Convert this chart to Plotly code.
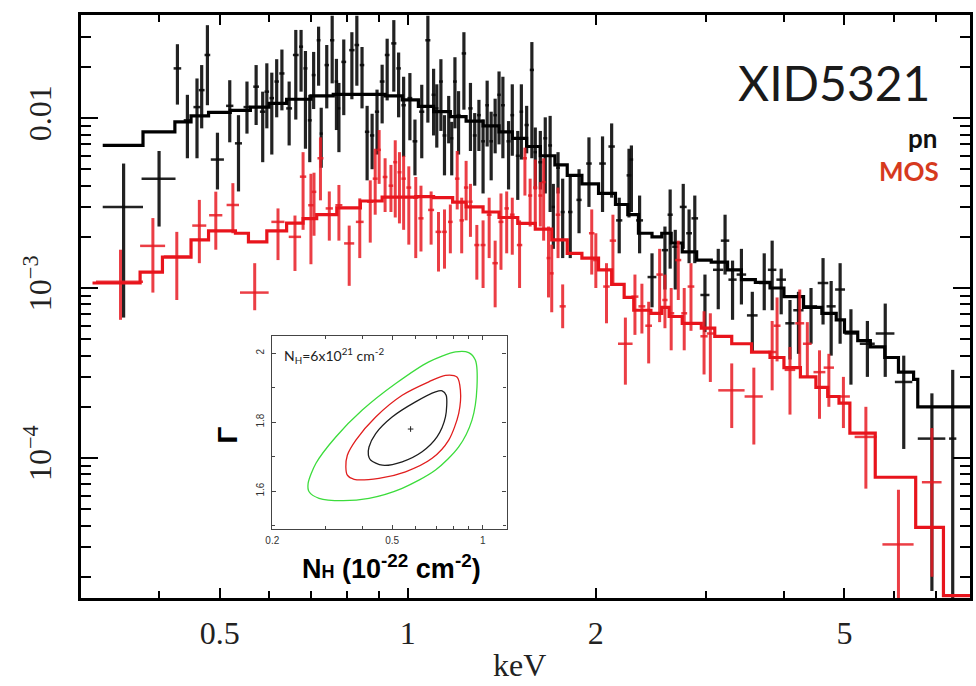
import numpy as np
import plotly.graph_objects as go

# ---------------- data: pn (black) ----------------
pn_E = [0.351, 0.400, 0.428, 0.444, 0.460, 0.468, 0.478, 0.496, 0.519, 0.536, 0.553, 0.572, 0.586, 0.595,
        0.606, 0.617, 0.629, 0.646, 0.662, 0.675, 0.686, 0.697, 0.707, 0.720, 0.727, 0.742, 0.757, 0.769,
        0.776, 0.790, 0.814, 0.829, 0.845, 0.861, 0.877, 0.893, 0.910, 0.927, 0.950, 0.967, 0.985, 1.008,
        1.027, 1.053, 1.077, 1.100, 1.113, 1.130, 1.145, 1.163, 1.176, 1.190, 1.206, 1.230, 1.260, 1.280,
        1.300, 1.320, 1.340, 1.360, 1.380, 1.400, 1.420, 1.450, 1.470, 1.500, 1.520, 1.550, 1.580, 1.600,
        1.630, 1.660, 1.690, 1.710, 1.740, 1.770, 1.820, 1.880, 1.950, 2.050, 2.120, 2.180, 2.260, 2.280,
        2.350, 2.460, 2.580, 2.630, 2.680, 2.760, 2.820, 2.880, 2.990, 3.140, 3.220, 3.310, 3.420, 3.560,
        3.720, 3.830, 3.960, 4.090, 4.220, 4.420, 4.620, 4.760, 4.920, 5.120, 5.440, 5.810, 6.220, 6.900,
        7.450]
pn_dE = [0.026, 0.025, 0.006, 0.006, 0.006, 0.005, 0.005, 0.012, 0.007, 0.007, 0.007, 0.006, 0.006, 0.005,
         0.005, 0.005, 0.006, 0.007, 0.007, 0.005, 0.005, 0.005, 0.005, 0.005, 0.004, 0.006, 0.006, 0.005,
         0.004, 0.007, 0.008, 0.007, 0.007, 0.007, 0.007, 0.007, 0.008, 0.008, 0.009, 0.008, 0.008, 0.009,
         0.009, 0.010, 0.010, 0.008, 0.007, 0.008, 0.008, 0.008, 0.007, 0.008, 0.009, 0.010, 0.010, 0.009,
         0.009, 0.009, 0.009, 0.009, 0.009, 0.009, 0.010, 0.011, 0.010, 0.011, 0.010, 0.012, 0.012, 0.010,
         0.012, 0.012, 0.012, 0.010, 0.012, 0.013, 0.015, 0.018, 0.020, 0.025, 0.025, 0.025, 0.020, 0.015,
         0.030, 0.040, 0.030, 0.025, 0.030, 0.035, 0.030, 0.035, 0.050, 0.060, 0.050, 0.050, 0.060, 0.070,
         0.070, 0.060, 0.070, 0.070, 0.080, 0.100, 0.090, 0.080, 0.090, 0.120, 0.150, 0.200, 0.200, 0.350,
         0.100]
pn_F = [0.0030, 0.0044, 0.0196, 0.0097, 0.0116, 0.0146, 0.0235, 0.0057, 0.0118, 0.0071, 0.0116, 0.0153, 0.0109, 0.0143,
        0.0131, 0.0164, 0.0183, 0.0114, 0.0235, 0.0263, 0.0196, 0.0097, 0.0179, 0.0287, 0.0081, 0.0205, 0.0287, 0.0164,
        0.0114, 0.0214, 0.0251, 0.0269, 0.0205, 0.0083, 0.0079, 0.0109, 0.0164, 0.0235, 0.0275, 0.0196, 0.0119, 0.0131,
        0.0073, 0.0109, 0.0287, 0.0137, 0.0114, 0.0164, 0.0079, 0.0109, 0.0076, 0.0164, 0.0104, 0.0240, 0.0114, 0.0079,
        0.0104, 0.0073, 0.0119, 0.0073, 0.0104, 0.0137, 0.0119, 0.0073, 0.0104, 0.0060, 0.0109, 0.0091, 0.0192, 0.0063,
        0.0055, 0.0076, 0.0069, 0.0030, 0.0051, 0.0028, 0.0028, 0.0033, 0.0054, 0.0054, 0.0068, 0.0025, 0.0046, 0.0057,
        0.0025, 0.00116, 0.00167, 0.0027, 0.00175, 0.0030, 0.0021, 0.00257, 0.00091, 0.00128, 0.0019, 0.00112, 0.0012, 0.00069,
        0.00107, 0.00128, 0.00112, 0.00062, 0.00074, 0.00078, 0.00107, 0.00078, 0.00098, 0.00054, 0.00047, 0.00054, 0.00028, 0.00013,
        0.00013]
pn_Fhi = [0.0054, 0.0064, 0.0272, 0.0137, 0.0171, 0.0205, 0.0352, 0.0082, 0.0167, 0.0104, 0.0164, 0.0205, 0.0143, 0.0210,
          0.0185, 0.0222, 0.0253, 0.0164, 0.0330, 0.0330, 0.0248, 0.0137, 0.0245, 0.0345, 0.0115, 0.0269, 0.0400, 0.0223,
          0.0161, 0.0290, 0.0320, 0.0400, 0.0262, 0.0118, 0.0106, 0.0147, 0.0206, 0.0293, 0.0377, 0.0243, 0.0175, 0.0184,
          0.0098, 0.0157, 0.0400, 0.0195, 0.0158, 0.0222, 0.0104, 0.0135, 0.0095, 0.0228, 0.0144, 0.0320, 0.0161, 0.0107,
          0.0128, 0.0098, 0.0166, 0.0109, 0.0130, 0.0188, 0.0175, 0.0096, 0.0158, 0.0084, 0.0158, 0.0118, 0.0280, 0.0088,
          0.0084, 0.0101, 0.0103, 0.0041, 0.0063, 0.0044, 0.0045, 0.0050, 0.0077, 0.0078, 0.0093, 0.0034, 0.0066, 0.0069,
          0.0035, 0.0016, 0.0023, 0.0038, 0.0022, 0.0041, 0.0029, 0.0035, 0.0012, 0.0017, 0.0027, 0.00145, 0.0017, 0.00095,
          0.0016, 0.0019, 0.0013, 0.00085, 0.00095, 0.0010, 0.0015, 0.0011, 0.0014, 0.00075, 0.00064, 0.00081, 0.0004, 0.00024,
          0.00033]
pn_Flo = [0.00067, 0.0023, 0.0120, 0.0058, 0.0058, 0.0087, 0.0119, 0.0038, 0.0072, 0.0037, 0.0081, 0.0091, 0.0055, 0.0087,
          0.0061, 0.0101, 0.0111, 0.0069, 0.0098, 0.0143, 0.0066, 0.0055, 0.0113, 0.0155, 0.0051, 0.0114, 0.0160, 0.0085,
          0.0063, 0.0104, 0.0129, 0.0155, 0.0114, 0.0043, 0.0050, 0.0061, 0.0093, 0.0127, 0.0143, 0.0101, 0.0059, 0.0074,
          0.0046, 0.0058, 0.0094, 0.0079, 0.0067, 0.0084, 0.0046, 0.0071, 0.0046, 0.0087, 0.0061, 0.0112, 0.0064, 0.0040,
          0.0064, 0.0036, 0.0068, 0.0043, 0.0062, 0.0070, 0.0058, 0.0038, 0.0060, 0.0033, 0.0057, 0.0062, 0.0058, 0.0038,
          0.0038, 0.0036, 0.0028, 0.0017, 0.0036, 0.0015, 0.0015, 0.0021, 0.0030, 0.0028, 0.0034, 0.0016, 0.0026, 0.0028,
          0.0016, 0.00077, 0.00098, 0.0013, 0.00098, 0.0017, 0.0014, 0.0014, 0.00055, 0.00075, 0.0012, 0.00065, 0.0008, 0.00042,
          0.00074, 0.00074, 0.0007, 0.00038, 0.00041, 0.00047, 0.00061, 0.0004, 0.00047, 0.00027, 0.0003, 0.0003, 0.000113, 0.0000165,
          0.000015]

# ---------------- data: MOS (red) ----------------
mos_E = [0.347, 0.391, 0.427, 0.464, 0.493, 0.525, 0.569, 0.620, 0.660, 0.680, 0.700, 0.708, 0.725, 0.749,
         0.776, 0.806, 0.838, 0.871, 0.887, 0.900, 0.920, 0.940, 0.955, 0.970, 0.985, 1.004, 1.030, 1.050,
         1.090, 1.120, 1.145, 1.170, 1.200, 1.220, 1.240, 1.260, 1.290, 1.320, 1.350, 1.380, 1.410, 1.440,
         1.470, 1.510, 1.540, 1.570, 1.600, 1.630, 1.650, 1.680, 1.700, 1.740, 1.770, 1.970, 2.000, 2.080,
         2.130, 2.230, 2.310, 2.370, 2.430, 2.530, 2.580, 2.640, 2.710, 2.770, 2.840, 2.980, 3.050, 3.300,
         3.580, 3.830, 3.900, 4.090, 4.240, 4.360, 4.560, 4.720, 4.980, 5.410, 6.100, 6.900]
mos_dE = [0.030, 0.018, 0.020, 0.012, 0.012, 0.012, 0.030, 0.015, 0.015, 0.008, 0.007, 0.006, 0.008, 0.010,
          0.010, 0.015, 0.012, 0.010, 0.008, 0.006, 0.008, 0.008, 0.007, 0.007, 0.008, 0.009, 0.010, 0.010,
          0.012, 0.012, 0.010, 0.010, 0.010, 0.010, 0.010, 0.010, 0.012, 0.012, 0.012, 0.014, 0.013, 0.012,
          0.013, 0.015, 0.012, 0.012, 0.012, 0.012, 0.012, 0.012, 0.012, 0.015, 0.020, 0.020, 0.020, 0.025,
          0.025, 0.060, 0.030, 0.030, 0.030, 0.030, 0.025, 0.030, 0.030, 0.030, 0.035, 0.040, 0.040, 0.160,
          0.120, 0.060, 0.050, 0.080, 0.070, 0.070, 0.100, 0.090, 0.120, 0.220, 0.350, 0.250]
mos_F = [0.00109, 0.00177, 0.00153, 0.00233, 0.00268, 0.00308, 0.00094, 0.00245, 0.0020, 0.00452, 0.00307, 0.00368, 0.0058, 0.00294,
         0.00307, 0.00183, 0.00245, 0.00322, 0.0044, 0.0065, 0.0045, 0.0040, 0.0055, 0.0048, 0.0044, 0.0039, 0.0034, 0.00257,
         0.00288, 0.00214, 0.00214, 0.00245, 0.0044, 0.0025, 0.0039, 0.00322, 0.00179, 0.00179, 0.0027, 0.0014, 0.00245, 0.00294,
         0.0027, 0.00179, 0.0058, 0.0035, 0.0039, 0.0035, 0.0042, 0.0015, 0.00122, 0.0027, 0.00078, 0.0021, 0.00146, 0.00102,
         0.0019, 0.00047, 0.00089, 0.00078, 0.0006, 0.0012, 0.00085, 0.00071, 0.00146, 0.00071, 0.00102, 0.00052, 0.00054, 0.00025,
         0.00023, 0.00042, 0.0006, 0.00033, 0.00062, 0.00047, 0.00032, 0.00034, 0.00023, 0.000133, 0.000031, 0.000072]
mos_Fhi = [0.00168, 0.00258, 0.00214, 0.0033, 0.00369, 0.00414, 0.0014, 0.00294, 0.00267, 0.0063, 0.0047, 0.00477, 0.0077, 0.0037,
           0.00404, 0.00233, 0.00337, 0.0043, 0.0066, 0.0085, 0.0058, 0.0053, 0.0074, 0.0063, 0.0060, 0.0052, 0.0045, 0.0040,
           0.0037, 0.0028, 0.0029, 0.0031, 0.0064, 0.0034, 0.0056, 0.0041, 0.00235, 0.0025, 0.0034, 0.0019, 0.0036, 0.0037,
           0.0034, 0.0025, 0.0067, 0.0044, 0.0057, 0.0042, 0.0058, 0.0023, 0.0018, 0.0039, 0.00105, 0.0029, 0.0021, 0.0014,
           0.0027, 0.00067, 0.0012, 0.00106, 0.00083, 0.0017, 0.0012, 0.0010, 0.0019, 0.0010, 0.0014, 0.00073, 0.00071, 0.00036,
           0.00034, 0.00064, 0.00088, 0.00045, 0.00098, 0.00063, 0.00043, 0.00041, 0.0003, 0.0002, 0.000065, 0.00015]
mos_Flo = [0.00065, 0.00094, 0.00085, 0.0014, 0.00168, 0.0021, 0.00074, 0.00146, 0.00126, 0.0022, 0.00138, 0.00203, 0.00328, 0.0019,
           0.0019, 0.00103, 0.0015, 0.00185, 0.0027, 0.0041, 0.0028, 0.0028, 0.0026, 0.0024, 0.0022, 0.0018, 0.0015, 0.00164,
           0.0018, 0.00125, 0.0013, 0.0016, 0.0029, 0.0016, 0.0025, 0.0020, 0.00112, 0.0010, 0.0015, 0.00077, 0.00128, 0.0016,
           0.00157, 0.0010, 0.0035, 0.0023, 0.0023, 0.0023, 0.0019, 0.00088, 0.00072, 0.0015, 0.00058, 0.0012, 0.0010, 0.00062,
           0.00105, 0.00027, 0.00053, 0.00054, 0.00036, 0.00063, 0.00058, 0.00043, 0.00085, 0.00043, 0.00056, 0.00031, 0.00028, 0.00015,
           0.00012, 0.00025, 0.00037, 0.00018, 0.00034, 0.0003, 0.00017, 0.0002, 0.00015, 0.000066, 0.000001, 0.00002]

# ---------------- folded models (step functions: bin edges, values) ----------------
pn_model_E = [0.325, 0.377, 0.424, 0.45, 0.48, 0.52, 0.56, 0.60, 0.64, 0.70, 0.76, 0.84, 0.92, 0.98, 1.04, 1.10,
              1.17, 1.24, 1.32, 1.40, 1.47, 1.55, 1.63, 1.72, 1.80, 1.90, 2.02, 2.15, 2.25, 2.34, 2.46, 2.55,
              2.64, 2.75, 2.90, 3.06, 3.25, 3.42, 3.60, 3.80, 4.00, 4.30, 4.60, 4.85, 5.00, 5.25, 5.50, 5.80,
              6.10, 6.45, 6.55, 7.94]
pn_model_F = [0.0069, 0.0083, 0.0095, 0.0103, 0.0108, 0.0111, 0.0116, 0.0122, 0.0129, 0.0135, 0.0138, 0.0138, 0.0135,
              0.0128, 0.0117, 0.0109, 0.0102, 0.0096, 0.0090, 0.0083, 0.0076, 0.0068, 0.0060, 0.0053, 0.0046, 0.0041,
              0.0036, 0.0031, 0.0027, 0.0021, 0.0020, 0.0021, 0.00184, 0.00163, 0.00146, 0.00142, 0.00128, 0.00112,
              0.00108, 0.0010, 0.00089, 0.00077, 0.00071, 0.00065, 0.00055, 0.00049, 0.00045, 0.00039, 0.00032,
              0.00029, 0.0002, 0.0002]
mos_model_E = [0.313, 0.373, 0.405, 0.45, 0.48, 0.53, 0.556, 0.595, 0.64, 0.68, 0.715, 0.77, 0.84, 0.91, 1.03, 1.10,
               1.18, 1.24, 1.32, 1.40, 1.50, 1.60, 1.70, 1.80, 1.90, 2.02, 2.12, 2.22, 2.30, 2.45, 2.55, 2.62, 2.75,
               2.95, 3.10, 3.30, 3.55, 3.80, 4.00, 4.25, 4.50, 4.70, 4.90, 5.10, 5.60, 6.50, 7.20, 7.94]
mos_model_F = [0.00107, 0.00124, 0.00152, 0.00192, 0.00217, 0.0021, 0.00187, 0.00217, 0.00241, 0.00256, 0.0027, 0.00296,
               0.00325, 0.00343, 0.00345, 0.0034, 0.0032, 0.0030, 0.0028, 0.0026, 0.0024, 0.00222, 0.00192, 0.0016,
               0.0015, 0.00128, 0.00105, 0.00088, 0.00074, 0.00071, 0.00077, 0.00068, 0.00062, 0.00058, 0.00052,
               0.00047, 0.00042, 0.00039, 0.00034, 0.0003, 0.00026, 0.00023, 0.00021, 0.00014, 0.000077, 0.000039,
               0.0000155, 0.0000155]

# ---------------- inset: confidence contours (NH in 1e22, Gamma) ----------------
c1_N = [0.417, 0.424, 0.464, 0.540, 0.629, 0.705, 0.752, 0.756, 0.733, 0.697, 0.598, 0.500, 0.441, 0.419, 0.417]
c1_G = [1.704, 1.690, 1.675, 1.685, 1.714, 1.757, 1.815, 1.878, 1.891, 1.888, 1.859, 1.815, 1.767, 1.728, 1.704]
c2_N = [0.351, 0.355, 0.374, 0.452, 0.554, 0.679, 0.771, 0.832, 0.843, 0.821, 0.752, 0.662, 0.540, 0.441, 0.379, 0.355, 0.351]
c2_G = [1.670, 1.646, 1.634, 1.637, 1.656, 1.695, 1.748, 1.825, 1.893, 1.931, 1.936, 1.917, 1.878, 1.815, 1.748, 1.704, 1.670]
c3_N = [0.263, 0.265, 0.286, 0.342, 0.419, 0.540, 0.697, 0.832, 0.921, 0.957, 0.945, 0.898, 0.812, 0.662, 0.514, 0.398, 0.325, 0.279, 0.263]
c3_G = [1.622, 1.598, 1.579, 1.572, 1.579, 1.608, 1.661, 1.728, 1.806, 1.902, 1.980, 2.002, 2.004, 1.975, 1.912, 1.835, 1.757, 1.680, 1.622]
best_N = [0.576]
best_G = [1.780]

# tick labels
x_ticks = [0.5, 1, 2, 5]
x_ticktext = ["0.5", "1", "2", "5"]
y_ticks = [0.01, 0.001, 0.0001]
y_ticktext = ["0.01", "10<sup>−3</sup>", "10<sup>−4</sup>"]
ins_x_ticks = [0.2, 0.5, 1]
ins_x_ticktext = ["0.2", "0.5", "1"]
ins_y_ticks = [1.6, 1.8, 2.0]
ins_y_ticktext = ["1.6", "1.8", "2"]

BLACK = "rgba(10,10,10,0.9)"
RED = "rgba(232,28,36,0.85)"

def errs(F, hi, lo):
    F = np.array(F); hi = np.array(hi); lo = np.array(lo)
    return (hi - F).tolist(), (F - lo).tolist()

fig = go.Figure()

pn_up, pn_dn = errs(pn_F, pn_Fhi, pn_Flo)
mos_up, mos_dn = errs(mos_F, mos_Fhi, mos_Flo)

fig.add_trace(go.Scatter(
    x=pn_E, y=pn_F, mode="markers", marker=dict(size=1, color=BLACK),
    error_x=dict(type="data", array=pn_dE, thickness=2.5, width=0, color=BLACK),
    error_y=dict(type="data", symmetric=False, array=pn_up, arrayminus=pn_dn, thickness=3.2, width=0, color=BLACK),
    showlegend=False, hoverinfo="skip"))
fig.add_trace(go.Scatter(
    x=pn_model_E, y=pn_model_F, mode="lines", line=dict(shape="hv", color="black", width=3.2),
    showlegend=False, hoverinfo="skip"))
fig.add_trace(go.Scatter(
    x=mos_E, y=mos_F, mode="markers", marker=dict(size=1, color=RED),
    error_x=dict(type="data", array=mos_dE, thickness=2.5, width=0, color=RED),
    error_y=dict(type="data", symmetric=False, array=mos_up, arrayminus=mos_dn, thickness=3.0, width=0, color=RED),
    showlegend=False, hoverinfo="skip"))
fig.add_trace(go.Scatter(
    x=mos_model_E, y=mos_model_F, mode="lines", line=dict(shape="hv", color="rgb(232,20,28)", width=3.2),
    showlegend=False, hoverinfo="skip"))

# white panel behind the inset
fig.add_trace(go.Scatter(
    x=[-0.1, 1.1, 1.1, -0.1, -0.1], y=[-0.1, -0.1, 1.1, 1.1, -0.1], xaxis="x2", yaxis="y2",
    mode="lines", line=dict(width=0, color="white"), fill="toself", fillcolor="white",
    showlegend=False, hoverinfo="skip"))

# inset contours
for N, G, col in [(c3_N, c3_G, "rgb(60,220,60)"), (c2_N, c2_G, "rgb(225,30,30)"), (c1_N, c1_G, "rgb(30,30,30)")]:
    fig.add_trace(go.Scatter(x=N, y=G, xaxis="x3", yaxis="y3", mode="lines",
                             line=dict(color=col, width=1.3, shape="spline", smoothing=0.8),
                             showlegend=False, hoverinfo="skip"))
fig.add_trace(go.Scatter(x=best_N, y=best_G, xaxis="x3", yaxis="y3", mode="markers",
                         marker=dict(symbol="cross-thin", size=4, line=dict(width=1, color="#222")),
                         showlegend=False, hoverinfo="skip"))

serif = "Liberation Serif"
x_minor = [0.3, 0.4, 0.6, 0.7, 0.8, 0.9, 3, 4, 6, 7]
y_minor = [v * 10.0 ** k for k in (-5, -4, -3, -2) for v in range(2, 10)]

fig.update_layout(
    width=976, height=686,
    margin=dict(l=81, r=3, t=15, b=88),
    paper_bgcolor="white", plot_bgcolor="white",
    xaxis=dict(type="log", range=[np.log10(0.3), np.log10(7.94)], domain=[0, 1], anchor="y",
               tickvals=x_ticks, ticktext=x_ticktext, ticks="inside", ticklen=10, tickwidth=2, tickcolor="black",
               showline=True, linewidth=2.5, linecolor="black", mirror="ticks",
               showgrid=False, zeroline=False, ticklabelstandoff=5,
               tickfont=dict(family=serif, size=32, color="#222"),
               minor=dict(tickvals=x_minor, ticks="inside", ticklen=7, tickwidth=2, tickcolor="black", showgrid=False)),
    yaxis=dict(type="log", range=[np.log10(1.5e-5), np.log10(0.0404)], domain=[0, 1], anchor="x",
               tickvals=y_ticks, ticktext=y_ticktext, tickangle=-90, ticks="inside", ticklen=17, tickwidth=2,
               tickcolor="black", showline=True, linewidth=2.5, linecolor="black", mirror="ticks",
               showgrid=False, zeroline=False, ticklabelstandoff=14,
               tickfont=dict(family=serif, size=32, color="#222"),
               minor=dict(tickvals=y_minor, ticks="inside", ticklen=10, tickwidth=2, tickcolor="black", showgrid=False)),
    xaxis2=dict(domain=[0.1895, 0.4832], range=[0, 1], anchor="y2", visible=False, fixedrange=True),
    yaxis2=dict(domain=[0.0223, 0.4906], range=[0, 1], anchor="x2", visible=False, fixedrange=True),
    xaxis3=dict(type="log", range=[np.log10(0.2), np.log10(1.2)], domain=[0.2152, 0.4787], anchor="y3",
                tickvals=ins_x_ticks, ticktext=ins_x_ticktext, ticks="inside", ticklen=4, tickwidth=1,
                tickcolor="#444", showline=True, linewidth=1.2, linecolor="#444", mirror="ticks",
                showgrid=False, zeroline=False, ticklabelstandoff=2,
                tickfont=dict(family="Liberation Sans", size=10, color="#333"),
                minor=dict(tickvals=[0.3, 0.4, 0.6, 0.7, 0.8, 0.9], ticks="inside", ticklen=3, tickwidth=1,
                           tickcolor="#444", showgrid=False)),
    yaxis3=dict(range=[1.49, 2.05], domain=[0.1184, 0.4494], anchor="x3",
                tickvals=ins_y_ticks, ticktext=ins_y_ticktext, tickangle=-90, ticks="inside", ticklen=4,
                tickwidth=1, tickcolor="#444", showline=True, linewidth=1.2, linecolor="#444", mirror="ticks",
                showgrid=False, zeroline=False, ticklabelstandoff=3,
                tickfont=dict(family="Liberation Sans", size=10, color="#333"),
                minor=dict(tickvals=[1.5, 1.7, 1.9], ticks="inside", ticklen=3, tickwidth=1,
                           tickcolor="#444", showgrid=False)),
    annotations=[
        dict(text="XID5321", x=0.9574, y=0.8834, xref="paper", yref="paper", xanchor="right", yanchor="middle",
             showarrow=False, font=dict(family="Lato", size=48, color="#1a1a1a")),
        dict(text="<b>pn</b>", x=0.965, y=0.7890, xref="paper", yref="paper", xanchor="right", yanchor="middle",
             showarrow=False, font=dict(family="Lato", size=26, color="#111")),
        dict(text="<b>MOS</b>", x=0.967, y=0.7330, xref="paper", yref="paper", xanchor="right", yanchor="middle",
             showarrow=False, font=dict(family="Lato", size=26, color="rgb(214,58,30)")),
        dict(text="keV", x=0.4933, y=-0.1149, xref="paper", yref="paper", xanchor="center", yanchor="middle",
             showarrow=False, font=dict(family=serif, size=32, color="#222")),
        dict(text="N<sub>H</sub>=6x10<sup>21</sup> cm<sup>-2</sup>", x=0.2265, y=0.4151, xref="paper", yref="paper",
             xanchor="left", yanchor="middle", showarrow=False, font=dict(family="Lato", size=14, color="#222")),
        dict(text="<b>Γ</b>", x=0.1648, y=0.2796, xref="paper", yref="paper", xanchor="center", yanchor="middle",
             textangle=-90, showarrow=False, font=dict(family="Liberation Sans", size=28, color="black")),
        dict(text="<b>N<span style='font-size:18px'>H</span> (10<sup>-22</sup> cm<sup>-2</sup>)</b>",
             x=0.3498, y=0.0532, xref="paper", yref="paper", xanchor="center", yanchor="middle",
             showarrow=False, font=dict(family="Liberation Sans", size=27, color="black")),
    ],
)

fig.write_html("out.html")
